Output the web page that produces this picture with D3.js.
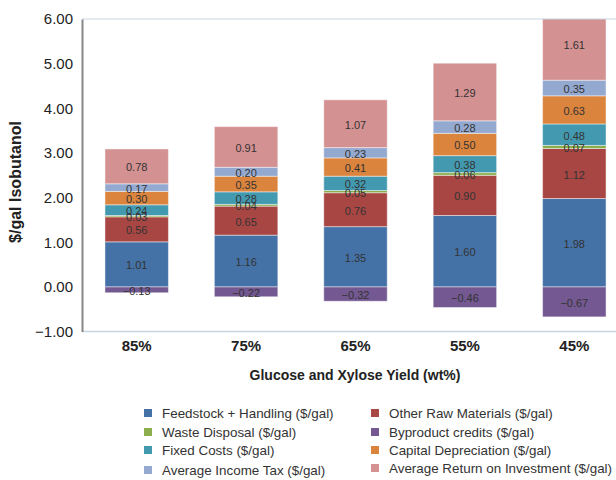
<!DOCTYPE html>
<html><head><meta charset="utf-8">
<script src="https://cdn.jsdelivr.net/npm/d3@7"></script>
<style>
html,body{margin:0;padding:0;background:#fff;}
svg{display:block;font-family:"Liberation Sans",Arial,Helvetica,sans-serif;}
</style></head>
<body>
<svg id="chart" width="616" height="480"></svg>
<script>
const categories = ["85%", "75%", "65%", "55%", "45%"];
const feedstock = [1.01, 1.16, 1.35, 1.60, 1.98];
const otherRaw = [0.56, 0.65, 0.76, 0.90, 1.12];
const wasteDisposal = [0.03, 0.04, 0.05, 0.06, 0.07];
const fixedCosts = [0.24, 0.28, 0.32, 0.38, 0.48];
const capitalDep = [0.30, 0.35, 0.41, 0.50, 0.63];
const incomeTax = [0.17, 0.20, 0.23, 0.28, 0.35];
const returnInv = [0.78, 0.91, 1.07, 1.29, 1.61];
const byproduct = [-0.13, -0.22, -0.32, -0.46, -0.67];
const yTicks = [-1, 0, 1, 2, 3, 4, 5, 6];

const series = [
  {name: "Feedstock + Handling ($/gal)", values: feedstock, color: "#4472a6"},
  {name: "Other Raw Materials ($/gal)", values: otherRaw, color: "#a84643"},
  {name: "Waste Disposal ($/gal)", values: wasteDisposal, color: "#8cae4c"},
  {name: "Byproduct credits ($/gal)", values: byproduct, color: "#735892"},
  {name: "Fixed Costs ($/gal)", values: fixedCosts, color: "#4399b0"},
  {name: "Capital Depreciation ($/gal)", values: capitalDep, color: "#db843d"},
  {name: "Average Income Tax ($/gal)", values: incomeTax, color: "#94a9d0"},
  {name: "Average Return on Investment ($/gal)", values: returnInv, color: "#d49192"}
];
const stackOrder = [0, 1, 2, 4, 5, 6, 7];

const svg = d3.select("#chart");
const x = d3.scaleBand().domain(categories).range([82, 629]).paddingInner(0.42).paddingOuter(0.21);
const y = d3.scaleLinear().domain([-1, 6]).range([331.6, 19]);

svg.append("defs").append("clipPath").attr("id", "plotclip")
  .append("rect").attr("x", 82).attr("y", y(6)).attr("width", 540).attr("height", y(-1) - y(6));

const plot = svg.append("g").attr("clip-path", "url(#plotclip)");
const labels = svg.append("g");

categories.forEach((c, i) => {
  let base = 0;
  stackOrder.forEach(si => {
    const s = series[si];
    const v = s.values[i];
    plot.append("rect")
      .attr("x", x(c)).attr("width", x.bandwidth())
      .attr("y", y(base + v)).attr("height", y(base) - y(base + v))
      .attr("fill", s.color)
      .attr("stroke", "rgba(255,255,255,0.45)").attr("stroke-width", 1);
    labels.append("text")
      .attr("x", x(c) + x.bandwidth() / 2)
      .attr("y", y(base + v / 2) + 1)
      .attr("text-anchor", "middle").attr("dominant-baseline", "central")
      .attr("font-size", 11).attr("fill", "#333")
      .text(d3.format(".2f")(v));
    base += v;
  });
  const bs = series[3];
  const bv = bs.values[i];
  plot.append("rect")
    .attr("x", x(c)).attr("width", x.bandwidth())
    .attr("y", y(0)).attr("height", y(bv) - y(0))
    .attr("fill", bs.color)
    .attr("stroke", "rgba(255,255,255,0.45)").attr("stroke-width", 1);
  labels.append("text")
    .attr("x", x(c) + x.bandwidth() / 2)
    .attr("y", y(bv / 2) + 1)
    .attr("text-anchor", "middle").attr("dominant-baseline", "central")
    .attr("font-size", 11).attr("fill", "#333")
    .text(d3.format(".2f")(bv));
});

// top gridline & bottom axis line
svg.append("line").attr("x1", 82).attr("x2", 616).attr("y1", y(6)).attr("y2", y(6))
  .attr("stroke", "#c8d5e2").attr("stroke-width", 1);
svg.append("line").attr("x1", 82).attr("x2", 616).attr("y1", y(-1)).attr("y2", y(-1))
  .attr("stroke", "#c8d5e2").attr("stroke-width", 1.5);

// y axis
const yAxis = d3.axisLeft(y).tickValues(yTicks).tickFormat(d3.format(".2f")).tickSize(0).tickPadding(9);
const ya = svg.append("g").attr("transform", "translate(82,0)").call(yAxis);
ya.select(".domain").attr("stroke", "#888").attr("stroke-width", 2);
ya.selectAll("text").attr("font-size", 15).attr("fill", "#222")
  .attr("font-family", "'Liberation Sans',Arial,sans-serif");

// x axis labels
const xAxis = d3.axisBottom(x).tickSize(0).tickPadding(9);
const xa = svg.append("g").attr("transform", `translate(0,${y(-1)})`).call(xAxis);
xa.select(".domain").remove();
xa.selectAll("text").attr("font-size", 15).attr("font-weight", "bold").attr("fill", "#222")
  .attr("font-family", "'Liberation Sans',Arial,sans-serif");

// axis titles
svg.append("text").attr("x", 355).attr("y", 375).attr("text-anchor", "middle")
  .attr("dominant-baseline", "central")
  .attr("font-size", 14).attr("font-weight", "bold").attr("fill", "#222")
  .text("Glucose and Xylose Yield (wt%)");
svg.append("text").attr("transform", "translate(15,182) rotate(-90)")
  .attr("text-anchor", "middle").attr("dominant-baseline", "central")
  .attr("font-size", 16).attr("font-weight", "bold").attr("fill", "#222")
  .text("$/gal Isobutanol");

// legend
const legendCols = [144, 371];
const legendRows = [413, 432, 450, 470];
const legend = svg.append("g");
series.forEach((s, k) => {
  const col = k % 2, row = Math.floor(k / 2);
  const lx = legendCols[col], ly = legendRows[row] - (col === 1 && row === 3 ? 2 : 0);
  legend.append("rect").attr("x", lx).attr("y", ly - 4).attr("width", 8).attr("height", 8).attr("fill", s.color);
  legend.append("text").attr("x", lx + 18).attr("y", ly).attr("dominant-baseline", "central")
    .attr("font-size", 13.4).attr("fill", "#333").text(s.name);
});
</script>
</body></html>
